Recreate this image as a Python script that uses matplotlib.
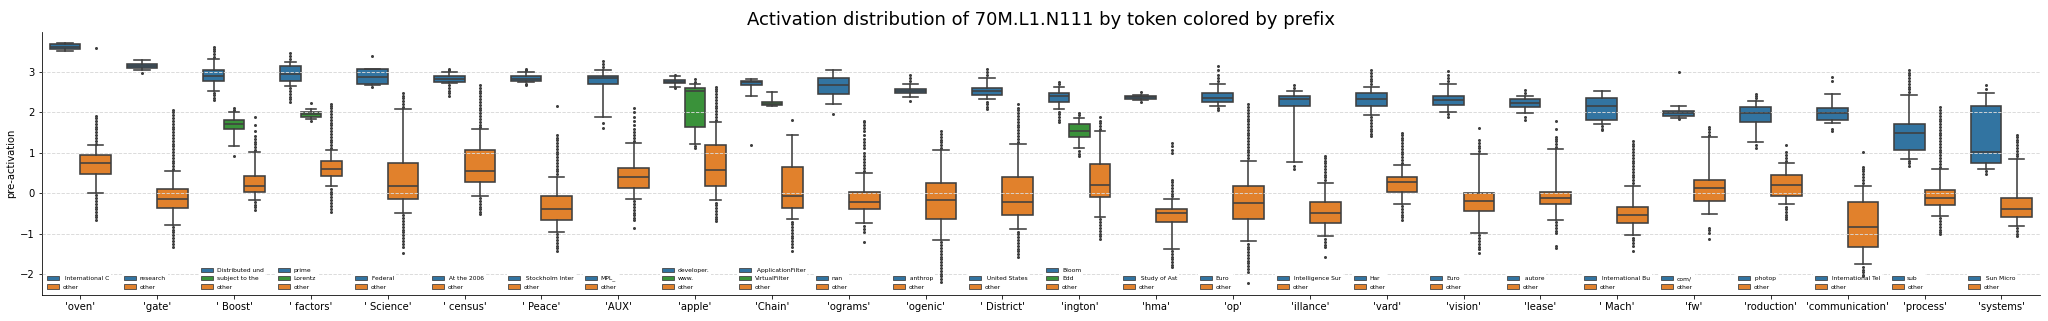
import matplotlib
matplotlib.use("Agg")
import matplotlib.pyplot as plt
from matplotlib.patches import Patch
from matplotlib.transforms import blended_transform_factory

tokens = ["'oven'", "'gate'", "' Boost'", "' factors'", "' Science'", "' census'",
          "' Peace'", "'AUX'", "'apple'", "'Chain'", "'ograms'", "'ogenic'",
          "' District'", "'ington'", "'hma'", "'op'", "'illance'", "'vard'",
          "'vision'", "'lease'", "' Mach'", "'fw'", "'roduction'",
          "'communication'", "'process'", "'systems'"]

prefixes = [
    [" International C", "other"],
    ["research", "other"],
    ["Distributed und", "subject to the", "other"],
    ["prime", "Lorentz", "other"],
    [" Federal", "other"],
    [" At the 2006", "other"],
    [" Stockholm Inter", "other"],
    ["MPL_", "other"],
    ["developer.", "www.", "other"],
    [" ApplicationFilter", "VirtualFilter", "other"],
    ["nan", "other"],
    [" anthrop", "other"],
    [" United States", "other"],
    ["Bloom", "Edd", "other"],
    [" Study of Ast", "other"],
    ["Euro", "other"],
    [" Intelligence Sur", "other"],
    ["Har", "other"],
    ["Euro", "other"],
    [" autore", "other"],
    [" International Bu", "other"],
    ["com/", "other"],
    [" photop", "other"],
    [" International Tel", "other"],
    ["sub", "other"],
    [" Sun Micro", "other"],
]

# whislo, q1, median, q3, whishi for each prefix group of each token
box_stats = [
    [(3.52, 3.57, 3.63, 3.70, 3.73), (0.00, 0.48, 0.75, 0.95, 1.19)],
    [(3.06, 3.09, 3.15, 3.20, 3.29), (-0.78, -0.37, -0.15, 0.11, 0.56)],
    [(2.54, 2.78, 2.91, 3.04, 3.32), (1.17, 1.59, 1.72, 1.82, 2.02), (-0.17, 0.02, 0.19, 0.42, 1.02)],
    [(2.66, 2.79, 2.95, 3.15, 3.26), (1.84, 1.88, 1.96, 2.02, 2.09), (0.17, 0.43, 0.60, 0.79, 1.07)],
    [(2.68, 2.71, 2.89, 3.08, 3.08), (-0.50, -0.15, 0.17, 0.75, 2.09)],
    [(2.72, 2.76, 2.83, 2.90, 3.00), (-0.07, 0.27, 0.54, 1.08, 1.58)],
    [(2.75, 2.79, 2.84, 2.90, 2.99), (-0.97, -0.66, -0.39, -0.06, 0.41)],
    [(1.88, 2.71, 2.85, 2.91, 3.05), (-0.14, 0.14, 0.41, 0.62, 1.24)],
    [(2.62, 2.72, 2.76, 2.81, 2.90), (1.22, 1.63, 2.53, 2.60, 2.70), (-0.17, 0.17, 0.58, 1.20, 1.77)],
    [(2.40, 2.67, 2.75, 2.78, 2.82), (2.15, 2.18, 2.22, 2.26, 2.50), (-0.64, -0.37, -0.08, 0.66, 1.43)],
    [(2.20, 2.46, 2.67, 2.85, 3.04), (-0.73, -0.39, -0.22, 0.02, 0.49)],
    [(2.39, 2.48, 2.53, 2.59, 2.70), (-1.16, -0.64, -0.17, 0.26, 1.07)],
    [(2.33, 2.43, 2.53, 2.60, 2.86), (-0.89, -0.54, -0.22, 0.40, 1.22)],
    [(2.08, 2.27, 2.41, 2.49, 2.64), (1.11, 1.40, 1.55, 1.72, 1.87), (-0.59, -0.09, 0.21, 0.72, 1.53)],
    [(2.31, 2.33, 2.38, 2.42, 2.44), (-1.37, -0.71, -0.50, -0.40, -0.14)],
    [(2.17, 2.25, 2.36, 2.47, 2.71), (-1.19, -0.64, -0.24, 0.17, 0.81)],
    [(0.78, 2.16, 2.34, 2.42, 2.53), (-1.06, -0.74, -0.50, -0.22, 0.26)],
    [(1.94, 2.16, 2.34, 2.49, 2.63), (-0.26, 0.02, 0.29, 0.40, 0.69)],
    [(2.01, 2.18, 2.30, 2.42, 2.71), (-0.98, -0.43, -0.18, 0.00, 0.98)],
    [(1.98, 2.13, 2.24, 2.33, 2.42), (-0.66, -0.26, -0.11, 0.03, 1.09)],
    [(1.72, 1.82, 2.15, 2.36, 2.53), (-1.04, -0.74, -0.55, -0.34, 0.19)],
    [(1.87, 1.92, 1.99, 2.04, 2.17), (-0.52, -0.20, 0.12, 0.34, 1.39)],
    [(1.28, 1.76, 1.98, 2.13, 2.29), (-0.26, -0.07, 0.21, 0.46, 0.75)],
    [(1.75, 1.82, 1.98, 2.11, 2.46), (-1.75, -1.32, -0.83, -0.22, 0.19)],
    [(0.86, 1.08, 1.49, 1.72, 2.43), (-0.56, -0.30, -0.11, 0.09, 0.60)],
    [(0.60, 0.74, 1.01, 2.17, 2.49), (-0.80, -0.59, -0.39, -0.12, 0.85)],
]

# outlying pre-activations beyond the whiskers
fliers = [
    [[], [1.23, 1.3, 1.37, 1.44, 1.51, 1.58, 1.65, 1.72, 1.79, 1.86, 1.92, 3.59,
          -0.05, -0.12, -0.19, -0.26, -0.33, -0.4, -0.47, -0.54, -0.6, -0.66]],
    [[2.97], [0.6, 0.67, 0.74, 0.81, 0.88, 0.95, 1.02, 1.09, 1.16, 1.23, 1.3, 1.37, 1.44,
              1.51, 1.58, 1.65, 1.72, 1.79, 1.86, 1.93, 2.0, 2.06,
              -0.83, -0.9, -0.97, -1.04, -1.11, -1.18, -1.25, -1.32]],
    [[3.37, 3.44, 3.51, 3.58, 3.63, 2.49, 2.43, 2.37, 2.31], [2.07, 2.12, 0.91],
     [1.07, 1.14, 1.21, 1.28, 1.35, 1.42, 1.55, 1.7, 1.88, -0.22, -0.28, -0.35, -0.41]],
    [[3.32, 3.4, 3.47, 2.6, 2.53, 2.46, 2.39, 2.33, 2.27], [2.23, 1.8],
     [1.12, 1.19, 1.26, 1.33, 1.4, 1.47, 1.54, 1.61, 1.68, 1.75, 1.82, 1.89, 1.96, 2.03,
      2.1, 2.16, 2.21, 0.11, 0.04, -0.03, -0.1, -0.17, -0.24, -0.31, -0.38, -0.47]],
    [[3.4, 2.62], [2.14, 2.21, 2.28, 2.35, 2.42, 2.48, -0.55, -0.62, -0.69, -0.76, -0.83,
                   -0.9, -0.97, -1.04, -1.11, -1.18, -1.25, -1.32, -1.49]],
    [[3.05, 3.08, 2.67, 2.6, 2.53, 2.47, 2.41],
     [1.63, 1.7, 1.77, 1.84, 1.91, 1.98, 2.05, 2.12, 2.19, 2.26, 2.33, 2.4, 2.47, 2.54,
      2.61, 2.68, -0.12, -0.19, -0.26, -0.33, -0.4, -0.46, -0.51]],
    [[3.05, 3.08, 2.71, 2.69],
     [0.47, 0.54, 0.61, 0.68, 0.75, 0.82, 0.89, 0.96, 1.03, 1.1, 1.17, 1.24, 1.31, 1.38,
      1.44, 2.16, -1.02, -1.09, -1.16, -1.23, -1.3, -1.36, -1.42]],
    [[3.12, 3.2, 3.27, 1.75, 1.61],
     [1.3, 1.37, 1.44, 1.51, 1.58, 1.7, 1.8, 1.9, 2.0, 2.1, -0.2, -0.27, -0.34, -0.41,
      -0.48, -0.55, -0.62, -0.66, -0.85]],
    [[2.93, 2.6], [2.76, 2.82, 1.17, 1.11],
     [1.82, 1.89, 1.96, 2.03, 2.1, 2.17, 2.24, 2.31, 2.38, 2.45, 2.52, 2.58, 2.62,
      -0.23, -0.3, -0.37, -0.44, -0.51, -0.58, -0.64, -0.68]],
    [[1.19], [], [1.82, -0.7, -0.77, -0.84, -0.91, -0.98, -1.05, -1.12, -1.19, -1.26,
                  -1.33, -1.42]],
    [[1.96], [0.56, 0.63, 0.7, 0.77, 0.84, 0.91, 1.0, 1.12, 1.2, 1.27, 1.35, 1.45, 1.55,
              1.62, 1.7, 1.76, 1.8, -0.8, -0.88, -0.97, -1.21]],
    [[2.78, 2.85, 2.93, 2.29],
     [1.12, 1.19, 1.26, 1.33, 1.4, 1.47, 1.53, -1.22, -1.29, -1.36, -1.43, -1.5, -1.57,
      -1.64, -1.71, -1.78, -1.85, -1.92, -1.99, -2.06, -2.13, -2.19]],
    [[2.93, 3.0, 3.07, 2.27, 2.2, 2.14, 2.09],
     [1.28, 1.35, 1.42, 1.49, 1.56, 1.63, 1.7, 1.77, 1.84, 1.91, 1.98, 2.05, 2.12, 2.21,
      -0.95, -1.02, -1.09, -1.16, -1.23, -1.3, -1.37, -1.44, -1.51, -1.57]],
    [[2.7, 2.76, 2.02, 1.95, 1.88, 1.82, 1.77], [1.93, 1.98, 1.05, 0.98, 0.91],
     [1.59, 1.66, 1.73, 1.8, 1.88, -0.65, -0.72, -0.79, -0.86, -0.93, -1.0, -1.07, -1.13]],
    [[2.51, 2.26],
     [-0.08, -0.01, 0.06, 0.13, 0.2, 0.27, 0.33, 1.0, 1.08, 1.16, 1.24,
      -1.43, -1.5, -1.57, -1.64, -1.71, -1.77, -1.82]],
    [[2.78, 2.86, 2.94, 3.04, 3.14, 2.11, 2.06],
     [0.87, 0.94, 1.01, 1.08, 1.15, 1.22, 1.29, 1.36, 1.43, 1.5, 1.57, 1.64, 1.71, 1.78,
      1.85, 1.92, 1.99, 2.06, 2.13, 2.2, -1.25, -1.32, -1.39, -1.46, -1.53, -1.6, -1.67,
      -1.74, -1.81, -1.88, -1.94, -2.23]],
    [[2.6, 2.68, 0.68, 0.6],
     [0.32, 0.39, 0.46, 0.53, 0.6, 0.67, 0.74, 0.81, 0.88, 0.92, -1.13, -1.2, -1.27,
      -1.34, -1.59]],
    [[2.7, 2.77, 2.84, 2.91, 2.98, 3.04, 1.88, 1.81, 1.74, 1.67, 1.6, 1.53, 1.46, 1.42],
     [0.75, 0.82, 0.89, 0.96, 1.03, 1.1, 1.17, 1.24, 1.31, 1.38, 1.44, 1.49,
      -0.32, -0.39, -0.46, -0.53, -0.6, -0.66]],
    [[2.78, 2.86, 2.94, 3.03, 1.96, 1.9],
     [1.04, 1.11, 1.18, 1.25, 1.32, 1.62, -1.04, -1.11, -1.18, -1.25, -1.32, -1.39, -1.49]],
    [[2.49, 2.56, 1.9, 1.82],
     [1.15, 1.22, 1.29, 1.35, 1.39, 1.6, 1.8, -0.72, -0.79, -0.86, -0.93, -0.99, -1.3, -1.36]],
    [[1.66, 1.6, 1.57],
     [0.25, 0.32, 0.39, 0.46, 0.53, 0.6, 0.67, 0.74, 0.81, 0.88, 0.95, 1.02, 1.09, 1.16,
      1.23, 1.3, -1.1, -1.17, -1.24, -1.3, -1.42]],
    [[3.0, 1.83], [1.45, 1.52, 1.58, 1.63, -0.85, -0.92, -0.99, -1.14]],
    [[2.36, 2.41, 2.46, 1.2, 1.13],
     [0.81, 0.88, 0.95, 1.02, 1.2, -0.33, -0.4, -0.47, -0.54, -0.6, -0.64]],
    [[2.78, 2.87, 1.6, 1.53],
     [0.26, 0.33, 0.4, 0.47, 0.54, 0.61, 0.64, 1.01, -1.82, -1.89, -1.96, -2.03, -2.06]],
    [[2.5, 2.57, 2.64, 2.71, 2.78, 2.85, 2.92, 2.98, 3.04, 0.8, 0.74, 0.68],
     [0.66, 0.73, 0.8, 0.87, 0.94, 1.01, 1.08, 1.15, 1.22, 1.29, 1.36, 1.43, 1.5, 1.57,
      1.64, 1.71, 1.78, 1.85, 1.92, 1.99, 2.06, 2.13, -0.62, -0.69, -0.76, -0.83, -0.9,
      -0.97, -1.01]],
    [[2.57, 2.67, 0.54, 0.48],
     [0.91, 0.98, 1.05, 1.12, 1.19, 1.26, 1.33, 1.4, 1.44, -0.86, -0.93, -1.0, -1.05]],
]

blue, orange, green = "#3274a1", "#e1812c", "#3a923a"
line_color = "#3f3f3f"

fig, ax = plt.subplots(figsize=(2048 / 72, 321 / 72), dpi=72)
fig.subplots_adjust(left=0.0205, right=0.996, bottom=0.081, top=0.90)

ax.set_axisbelow(False)
ax.yaxis.grid(True, linestyle="--", color="#d9d9d9", linewidth=0.9)
legend_trans = blended_transform_factory(ax.transData, ax.transAxes)

for i, (labels, stats, outs) in enumerate(zip(prefixes, box_stats, fliers)):
    n = len(labels)
    w = 0.8 / n
    colors = []
    for j, lab in enumerate(labels):
        if lab == "other":
            colors.append(orange)
        elif j == 0:
            colors.append(blue)
        else:
            colors.append(green)
    bxp_stats = [dict(whislo=s[0], q1=s[1], med=s[2], q3=s[3], whishi=s[4], fliers=f)
                 for s, f in zip(stats, outs)]
    positions = [i - 0.4 + (j + 0.5) * w for j in range(n)]
    art = ax.bxp(bxp_stats, positions=positions, widths=w, capwidths=w * 0.5,
                 patch_artist=True, manage_ticks=False, zorder=2,
                 boxprops=dict(edgecolor=line_color, linewidth=1.6),
                 whiskerprops=dict(color=line_color, linewidth=1.6),
                 capprops=dict(color=line_color, linewidth=1.6),
                 medianprops=dict(color=line_color, linewidth=1.6),
                 flierprops=dict(marker="o", markersize=2, markerfacecolor=line_color,
                                 markeredgecolor=line_color, linestyle="none"))
    for patch, c in zip(art["boxes"], colors):
        patch.set_facecolor(c)
    for key in ("whiskers", "caps", "medians", "fliers"):
        for a in art[key]:
            a.set_zorder(3)

    # one small legend per token, tucked under its boxes
    handles = [Patch(facecolor=c, edgecolor=line_color, linewidth=0.8) for c in colors]
    leg = ax.legend(handles, labels, loc="lower left", bbox_to_anchor=(i - 0.5, 0.0),
                    bbox_transform=legend_trans, borderaxespad=0.6, fontsize=6,
                    frameon=True, framealpha=1, edgecolor="none", fancybox=False,
                    handlelength=2.0, handletextpad=0.6, borderpad=0.3, labelspacing=0.5)
    leg.set_zorder(2.7)
    ax.add_artist(leg)

ax.set_xticks(range(len(tokens)))
ax.set_xticklabels(tokens, fontsize=10)
ax.tick_params(axis="both", labelsize=10)
ax.set_xlim(-0.5, len(tokens) - 0.5)
ax.set_ylim(-2.52, 3.99)
ax.set_yticks([-2, -1, 0, 1, 2, 3])
ax.set_ylabel("pre-activation", fontsize=10)
ax.set_title("Activation distribution of 70M.L1.N111 by token colored by prefix",
             fontsize=18, pad=7)
ax.spines["top"].set_visible(False)
ax.spines["right"].set_visible(False)

fig.savefig("out.png", dpi=72)
